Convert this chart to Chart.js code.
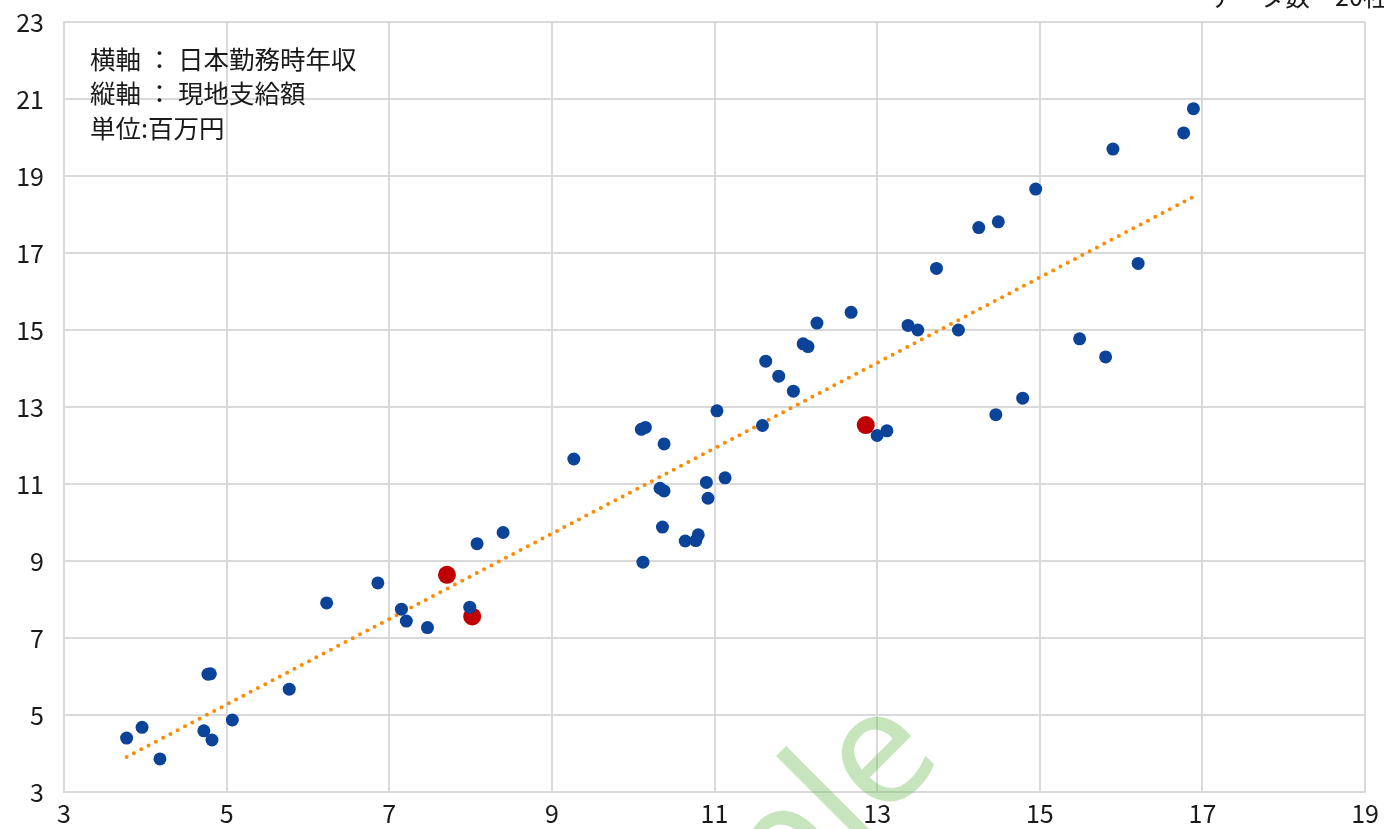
<!DOCTYPE html>
<html>
<head>
<meta charset="utf-8">
<script src="https://cdn.jsdelivr.net/npm/chart.js@4"></script>
<style>
  html, body { margin: 0; padding: 0; background: #fff; }
  canvas { display: block; }
</style>
</head>
<body>
<canvas id="chart" width="1384" height="829"></canvas>
<script>
// Blue points: x = 日本勤務時年収, y = 現地支給額 (百万円)
const blueX = [3.77, 3.96, 4.18, 4.72, 4.82, 4.77, 4.80, 5.07, 5.77, 6.23,
  6.86, 7.15, 7.21, 7.47, 7.99, 8.08, 8.40, 9.27, 10.10, 10.15,
  10.12, 10.38, 10.33, 10.38, 10.36, 10.64, 10.77, 10.80, 10.90, 10.92,
  11.13, 11.03, 11.59, 11.63, 11.79, 11.97, 12.09, 12.15, 12.26, 12.68,
  13.00, 13.12, 13.38, 13.50, 13.73, 14.00, 14.25, 14.49, 14.95, 14.46,
  14.79, 15.49, 15.81, 16.21, 15.90, 16.77, 16.89];
const blueY = [4.40, 4.68, 3.86, 4.59, 4.35, 6.06, 6.07, 4.87, 5.67, 7.91,
  8.43, 7.75, 7.44, 7.27, 7.80, 9.45, 9.74, 11.65, 12.42, 12.47,
  8.97, 12.04, 10.89, 10.82, 9.88, 9.52, 9.53, 9.68, 11.04, 10.63,
  11.16, 12.90, 12.52, 14.19, 13.80, 13.41, 14.64, 14.57, 15.18, 15.46,
  12.26, 12.38, 15.12, 15.00, 16.60, 15.00, 17.66, 17.81, 18.66, 12.80,
  13.23, 14.77, 14.30, 16.73, 19.70, 20.12, 20.75];

// Highlighted (red) points
const redX = [7.71, 8.02, 12.86];
const redY = [8.64, 7.56, 12.53];

// Trend line end points
const trendX = [3.77, 16.88];
const trendY = [3.91, 18.45];

const noteLines = ['横軸 ： 日本勤務時年収', '縦軸 ： 現地支給額', '単位:百万円'];
const countLabel = 'データ数　20社';
const watermark = 'Sample';

const toPoints = (xs, ys) => xs.map((x, i) => ({ x: x, y: ys[i] }));

const FONT = '"Noto Sans CJK JP", "Noto Sans", sans-serif';

// Notes, cut-off count label and watermark
const overlay = {
  id: 'overlay',
  afterDraw(chart) {
    const ctx = chart.ctx;
    ctx.save();
    ctx.fillStyle = '#1a1a1a';
    ctx.font = '25.5px ' + FONT;
    ctx.textBaseline = 'middle';
    ctx.textAlign = 'left';
    noteLines.forEach((t, i) => ctx.fillText(t, 90, 59 + i * 34.5));

    ctx.textBaseline = 'alphabetic';
    ctx.font = '25px ' + FONT;
    ctx.fillText(countLabel, 1210, 6);

    // watermark
    const size = 160;
    ctx.font = size + 'px "Noto Sans", sans-serif';
    ctx.fillStyle = 'rgba(112, 190, 90, 0.4)';
    ctx.translate(866, 838);
    ctx.rotate(-Math.PI / 4);
    const off = ctx.measureText('Samp').width + 0.12 * size;
    ctx.fillText(watermark, -off, 0);
    ctx.restore();
  }
};

new Chart(document.getElementById('chart'), {
  type: 'scatter',
  data: {
    datasets: [
      {
        data: toPoints(blueX, blueY),
        backgroundColor: '#0b4399',
        borderColor: '#0b4399',
        borderWidth: 0,
        pointRadius: 6.5
      },
      {
        data: toPoints(redX, redY),
        backgroundColor: '#c00000',
        borderColor: '#c00000',
        borderWidth: 0,
        pointRadius: 9
      },
      {
        type: 'line',
        data: toPoints(trendX, trendY),
        showLine: true,
        pointRadius: 0,
        borderColor: '#ff8a00',
        borderWidth: 4,
        borderDash: [0, 8.24],
        borderCapStyle: 'round',
        fill: false
      }
    ]
  },
  options: {
    responsive: false,
    devicePixelRatio: 1,
    animation: false,
    layout: { padding: { top: 22, right: 19, left: 0, bottom: 0 } },
    plugins: { legend: { display: false }, tooltip: { enabled: false } },
    scales: {
      x: {
        type: 'linear',
        min: 3, max: 19,
        afterFit: (s) => { s.height = 37; s.paddingLeft = 0; s.paddingRight = 0; },
        ticks: { stepSize: 2, padding: 6, color: '#1a1a1a', font: { size: 25, family: FONT } },
        grid: { color: '#d9d9d9', lineWidth: 2, drawTicks: false },
        border: { color: '#d9d9d9', width: 2 }
      },
      y: {
        min: 3, max: 23,
        afterFit: (s) => { s.width = 64; s.paddingTop = 0; s.paddingBottom = 0; },
        ticks: { stepSize: 2, padding: 20, color: '#1a1a1a', font: { size: 25, family: FONT } },
        grid: { color: '#d9d9d9', lineWidth: 2, drawTicks: false },
        border: { color: '#d9d9d9', width: 2 }
      }
    }
  },
  plugins: [overlay]
});
</script>
</body>
</html>
